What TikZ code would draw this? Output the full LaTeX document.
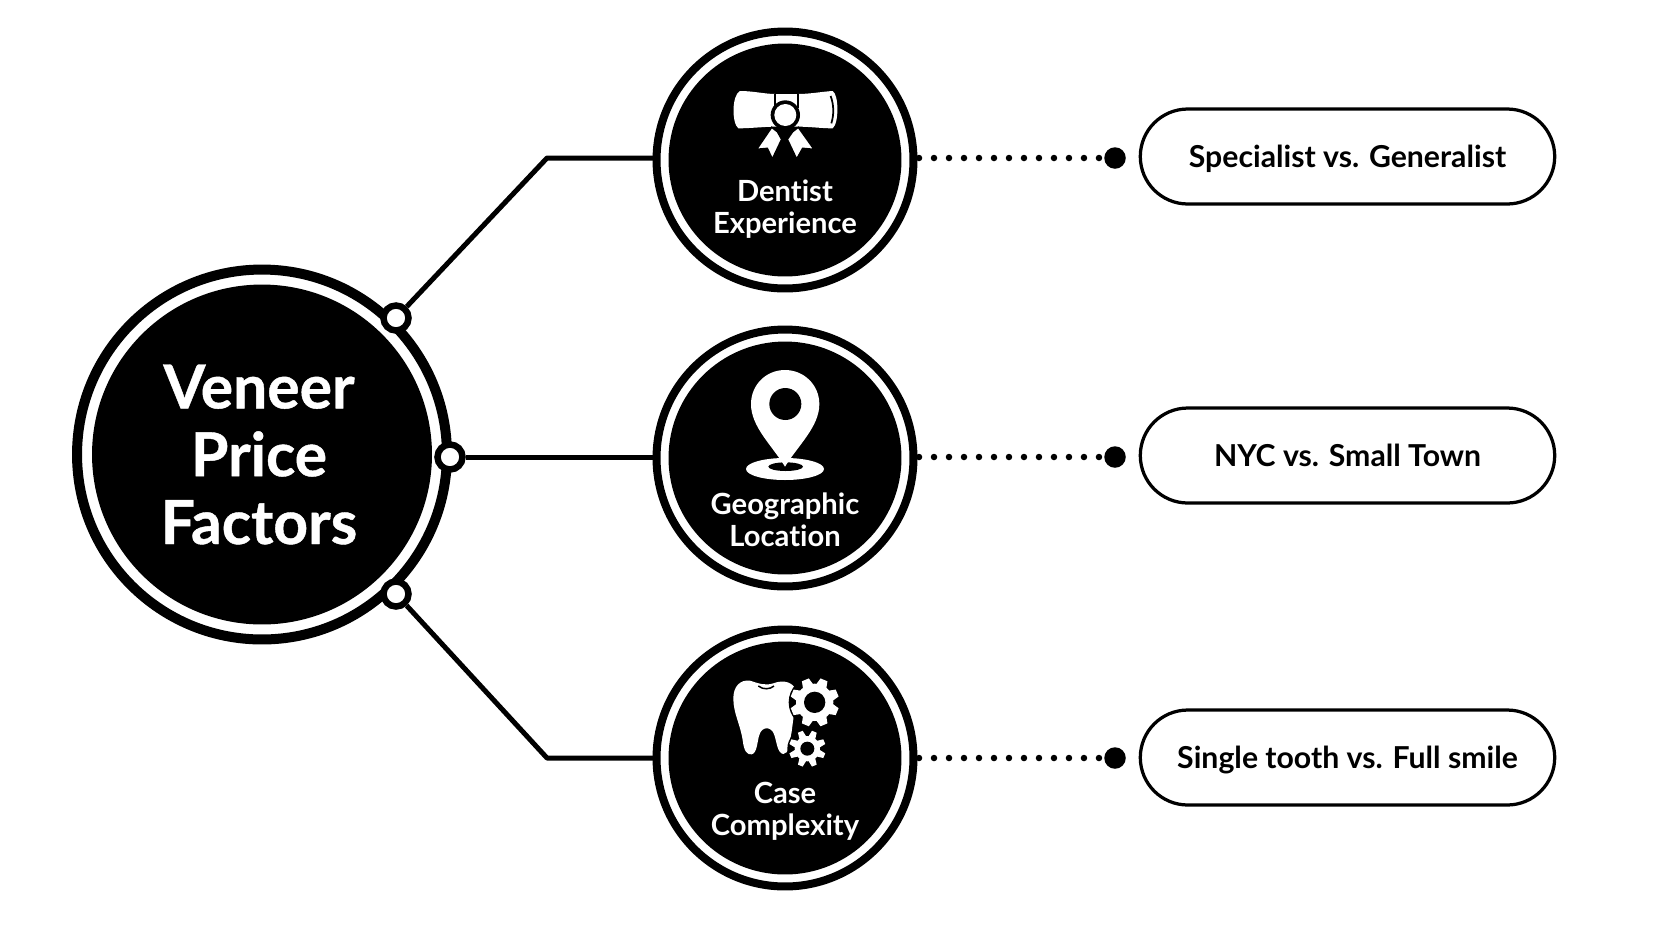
\documentclass[tikz,border=0pt]{standalone}
\usepackage{fontspec}
\setmainfont{Lato}[Ligatures=NoCommon]
\newfontfamily\heavyfont{Lato}[Ligatures=NoCommon, BoldFeatures={FakeBold=0.7}]
\usetikzlibrary{positioning}
\tikzset{
    hubcore/.style={circle, fill=black, minimum size=6.8cm, inner sep=0pt},
    hubring/.style={circle, draw=black, line width=0.2cm, minimum size=7.4cm, inner sep=0pt},
    hubtext/.style={text=white, align=center, font=\fontsize{34.5}{38.6}\selectfont\heavyfont\bfseries},
    factorcore/.style={circle, fill=black, minimum size=4.66cm, inner sep=0pt},
    factorring/.style={circle, draw=black, line width=0.16cm, minimum size=5.14cm, inner sep=0pt},
    knob/.style={circle, draw=black, fill=white, line width=0.13cm, minimum size=0.5cm, inner sep=0pt},
    enddot/.style={circle, fill=black, minimum size=0.43cm, inner sep=0pt},
    pill/.style={draw=black, fill=white, line width=0.065cm, rounded corners=0.95cm, minimum width=8.29cm, minimum height=1.9cm, inner sep=0pt, text height=0.42cm, text depth=0pt, font=\fontsize{17.2}{20}\selectfont\bfseries},
    factortext/.style={text=white, align=center, font=\fontsize{16.6}{18.2}\selectfont\bfseries},
    link/.style={line width=0.1cm, line join=round},
    dots/.style={line width=0.13cm, line cap=round, dash pattern=on 0pt off 0.3cm},
    zoomed/.style={shift={(#1)}, x=0.00667cm, y=-0.00667cm},
}
\newcommand{\gearicon}[4]{% x, y, root radius, hole radius
    \fill[black] (#1,#2) circle ({#3+22});
    \foreach \ang in {0,45,...,315} {
        \fill[white, rotate around={\ang+22.5:(#1,#2)}] ({#1+#3-6},{#2-0.3*#3}) -- ({#1+#3+17},{#2-0.2*#3}) -- ({#1+#3+17},{#2+0.2*#3}) -- ({#1+#3-6},{#2+0.3*#3}) -- cycle;
    }
    \fill[white] (#1,#2) circle (#3);
    \fill[black] (#1,#2) circle (#4);
}
\begin{document}
\begin{tikzpicture}[x=0.02cm, y=-0.02cm]
    \useasboundingbox (0,0) rectangle (1672,941);

    % Nodes
    \node[hubring] (hubr) at (262,454.5) {};
    \node[hubcore] (hub) at (262,454.5) {};
    \node[hubtext] (hubtxt) at (259,454.5) {Veneer\\Price\\Factors};

    \node[factorring] (expr) at (785,160) {};
    \node[factorcore] (exp) at (785,160) {};
    \node[factorring] (locr) at (785,458) {};
    \node[factorcore] (loc) at (785,458) {};
    \node[factorring] (cplr) at (785,758) {};
    \node[factorcore] (cpl) at (785,758) {};

    \node[factortext] (exptext) at (785,209) {Dentist\\Experience};
    \node[factortext] (loctext) at (785,520) {Geographic\\Location};
    \node[factortext] (cpltext) at (785,811) {Case\\Complexity};

    \node[pill] (exppill) at (1347.5,156.5) {Specialist vs. Generalist};
    \node[pill] (locpill) at (1347.5,455.5) {NYC vs. Small Town};
    \node[pill] (cplpill) at (1347.5,757.5) {Single tooth vs. Full smile};

    \node[enddot] (expdot) at (1115,158) {};
    \node[enddot] (locdot) at (1115,457) {};
    \node[enddot] (cpldot) at (1115,758) {};

    \node[knob] (kn1) at (396,318) {};
    \node[knob] (kn2) at (450,457) {};
    \node[knob] (kn3) at (396,594) {};

    \coordinate (bend1) at (547,158);
    \coordinate (bend3) at (547,758);
    \coordinate (expin) at (653,158);
    \coordinate (locin) at (653,457);
    \coordinate (cplin) at (653,758);
    \coordinate (expout) at (919,158);
    \coordinate (locout) at (919,457);
    \coordinate (cplout) at (919,758);

    % Links
    \draw[link] (kn1) -- (bend1) -- (expin);
    \draw[link] (kn2) -- (locin);
    \draw[link] (kn3) -- (bend3) -- (cplin);
    \draw[dots] (expout) -- (expdot);
    \draw[dots] (locout) -- (locdot);
    \draw[dots] (cplout) -- (cpldot);

    % Diploma
    \begin{scope}[zoomed={640,20}]
        \fill[white] (300,213) .. controls (340,213) and (375,222) .. (405,222) -- (475,222) .. controls (510,222) and (545,215) .. (578,213) .. controls (597,225) and (597,310) .. (578,325) .. controls (545,325) and (510,320) .. (475,320) -- (405,320) .. controls (375,320) and (330,325) .. (295,325) .. controls (275,310) and (275,225) .. (300,213) -- cycle;
        \draw[black, line width=0.035cm] (405,222) -- (405,265) (475,222) -- (475,265);
        \draw[black, line width=0.035cm] (572,228) .. controls (582,255) and (582,285) .. (574,310);
        \filldraw[fill=white, draw=black, line width=0.03cm] (395,322) -- (350,388) -- (382,385) -- (397,417) -- (425,358) -- (412,335) -- cycle;
        \filldraw[fill=white, draw=black, line width=0.03cm] (475,322) -- (522,388) -- (488,385) -- (470,417) -- (442,358) -- (458,335) -- cycle;
        \fill[black] (436,285) circle (44);
        \fill[white] (436,285) circle (33);
    \end{scope}

    % Pin
    \begin{scope}[zoomed={640,320}]
        \fill[white] (435,447) ellipse (117 and 33);
        \fill[black] (437,440) ellipse (52 and 13);
        \fill[white] (435,440) .. controls (395,375) and (333,320) .. (333,252) .. controls (333,195) and (378,150) .. (435,150) .. controls (492,150) and (538,195) .. (538,252) .. controls (538,320) and (475,375) .. (435,440) -- cycle;
        \fill[black] (436,252) circle (48);
    \end{scope}

    % Tooth and gears
    \begin{scope}[zoomed={640,620}]
        \fill[white] (330,182) .. controls (300,178) and (280,200) .. (280,235) .. controls (280,280) and (300,310) .. (308,360) .. controls (312,395) and (322,405) .. (335,403) .. controls (352,400) and (352,360) .. (358,345) .. controls (365,318) and (395,318) .. (403,345) .. controls (410,365) and (412,400) .. (430,402) .. controls (447,402) and (448,370) .. (455,335) -- (470,220) .. controls (465,185) and (430,178) .. (400,190) .. controls (375,198) and (355,190) .. (330,182) -- cycle;
        \draw[black, line width=0.03cm] (355,198) .. controls (370,210) and (390,208) .. (402,198);
        \gearicon{524}{247}{56}{32}
        \gearicon{502}{386}{38}{21}
    \end{scope}
\end{tikzpicture}
\end{document}
